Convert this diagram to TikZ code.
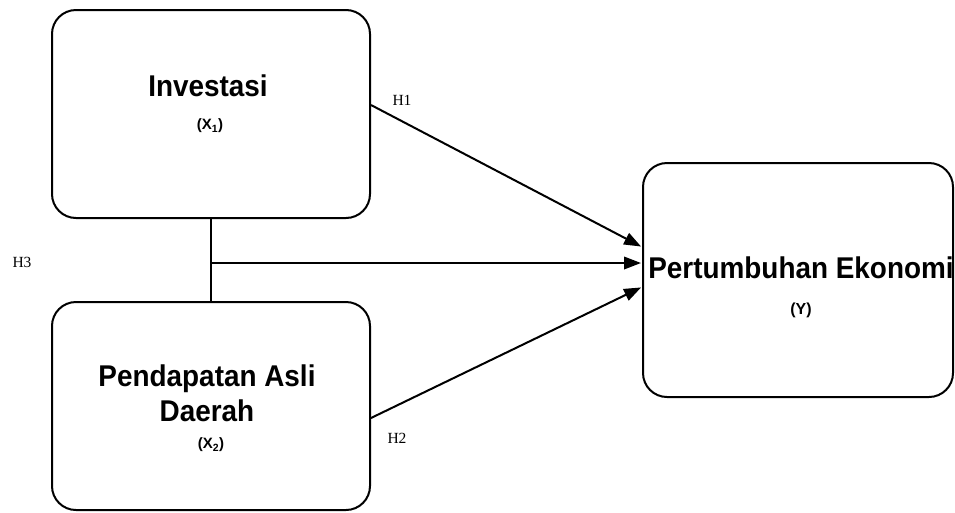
\documentclass[tikz,border=0pt]{standalone}
\usepackage{fontspec}
\usepackage{graphicx}
\setmainfont{Liberation Serif}
\newfontfamily\boxfont{Liberation Sans}
\usetikzlibrary{arrows.meta}
\newcommand{\sq}[1]{\scalebox{0.93}[1]{#1}}
\begin{document}
\begin{tikzpicture}[x=1pt,y=-1pt,
  varbox/.style={draw,line width=2pt,rounded corners=24pt,inner sep=0pt},
  bigtxt/.style={font=\boxfont\bfseries\fontsize{30}{35}\selectfont,inner sep=0pt,align=center},
  smalltxt/.style={font=\boxfont\bfseries\fontsize{15}{18}\selectfont,inner sep=0pt},
  hlab/.style={font=\fontsize{15.5}{18}\selectfont,inner sep=0pt},
  conn/.style={line width=2pt},
  arr/.style={line width=2pt,shorten >=1pt,-{Triangle[length=17pt,width=12.5pt]}}]
\useasboundingbox (0,0) rectangle (955,512);
\node[varbox,minimum width=318pt,minimum height=208pt] (b1) at (211,114) {};
\node[varbox,minimum width=318pt,minimum height=208pt] (b2) at (211,406) {};
\node[varbox,minimum width=310pt,minimum height=234pt] (b3) at (798,280) {};
\node[bigtxt] (t1) at (208,86) {\sq{Investasi}};
\node[smalltxt] (t1s) at (210,126) {(X\textsubscript{1})};
\node[bigtxt] (t2) at (207,393) {\sq{Pendapatan Asli}\\\sq{Daerah}};
\node[smalltxt] (t2s) at (211,445) {(X\textsubscript{2})};
\node[bigtxt] (t3) at (801,268) {\sq{Pertumbuhan Ekonomi}};
\node[font=\boxfont\bfseries\fontsize{16}{18}\selectfont,inner sep=0pt] (t3s) at (801,310) {(Y)};
\node[hlab] (h1) at (402,100) {H1};
\node[hlab] (h2) at (397,438) {H2};
\node[hlab] (h3) at (22,262) {H3};
\coordinate (j) at (211,263);
\draw[conn] (b1.south) -- (b2.north);
\draw[arr] (j) -- ([yshift=17pt]b3.west);
\draw[arr] ([yshift=9pt]b1.east) -- ([yshift=33pt]b3.west);
\draw[arr] ([yshift=-12pt]b2.east) -- ([yshift=-7pt]b3.west);
\end{tikzpicture}
\end{document}
